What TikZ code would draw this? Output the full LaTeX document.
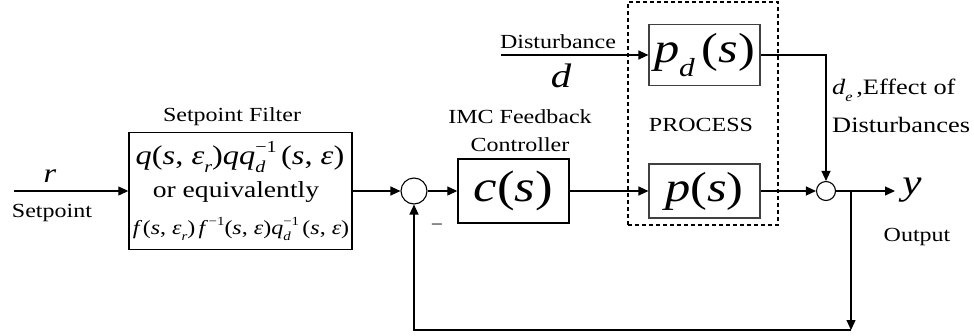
\documentclass[tikz,border=0pt]{standalone}
\usepackage{fontspec}
\setmainfont{Liberation Serif}[FakeStretch=1.2,
  ItalicFont={Liberation Serif Italic}]
\newfontfamily\itf{Liberation Serif Italic}[FakeStretch=1.2]
\usetikzlibrary{arrows.meta}

% small raised and lowered pieces, scaled from the current size
\newcommand\lowr[1]{\raisebox{-.32em}{\scalebox{.62}{#1}}}
\newcommand\upr[1]{\raisebox{.45em}{\scalebox{.62}{#1}}}
\newcommand\lowup[2]{\rlap{\lowr{#1}}\upr{#2}}
\newcommand\iv[1]{{\itf #1}}
\newcommand\fs[1]{\fontsize{#1}{#1}\selectfont}

\begin{document}
\begin{tikzpicture}[x=1pt,y=-1pt,
  blockbox/.style={draw, line width=1.4pt, inner sep=0pt},
  procbox/.style={draw=black!75, line width=1.1pt, inner sep=0pt},
  sumnode/.style={circle, draw, line width=1.1pt, inner sep=0pt},
  conn/.style={line width=1.2pt, -{Triangle[length=10pt,width=9pt]}},
  lbl/.style={inner sep=0pt, font=\fs{20}},
]
\useasboundingbox (0,0) rectangle (974,335);

% process boundary
\node[draw, line width=1.6pt, dash pattern=on 4pt off 3pt,
      minimum width=150pt, minimum height=223pt, inner sep=0pt] (proc) at (703,113.5) {};
\node[lbl] (proclbl) at (701,125) {PROCESS};

% setpoint filter
\node[blockbox, minimum width=223pt, minimum height=117pt] (filt) at (240.5,191) {};
\node[inner sep=0pt, font=\fs{27}] (f1) at (240,157)
  {\iv{q}(\iv{s}, \iv{ε}\lowr{\iv{r}})\iv{qq}\lowup{\iv{d}}{−1}\,(\iv{s}, \iv{ε})};
\node[inner sep=0pt, font=\fs{23}] (f2) at (236,192) {or equivalently};
\node[inner sep=0pt, font=\fs{20}] (f3) at (241,229)
  {\iv{f}\,(\iv{s}, \iv{ε}\lowr{\iv{r}})\,\iv{f}\,\upr{−1}(\iv{s}, \iv{ε})\iv{q}\lowup{\iv{d}}{−1}\,(\iv{s}, \iv{ε})};
\node[lbl] (filtlbl) at (232,117) {Setpoint Filter};

% controller
\node[sumnode, minimum size=26pt] (s1) at (414,191) {};
\node[blockbox, minimum width=111pt, minimum height=64pt, font=\fs{44}] (cs) at (513.5,191) {\iv{c}(\iv{s})};
\node[lbl] (imc1) at (520,117) {IMC Feedback};
\node[lbl] (imc2) at (520,145) {Controller};

% process
\node[procbox, minimum width=111pt, minimum height=61pt, font=\fs{42}] (pd) at (704.5,55) {\iv{p}\lowr{\iv{d}}\,(\iv{s})};
\node[procbox, minimum width=111pt, minimum height=54pt, font=\fs{42}] (ps) at (704.5,191) {\iv{p}(\iv{s})};

\node[sumnode, minimum size=19pt] (s2) at (826,191) {};

% free ends of the connectors
\coordinate (in) at (14,191);
\coordinate (dstart) at (501,55);
\coordinate (yend) at (895,191);
\coordinate (br) at (851,191);
\coordinate (corner) at (851,330);

% signal flow
\draw[conn] (in) -- (filt.west);
\draw[conn] (filt.east) -- (s1.west);
\draw[conn] (s1.east) -- (cs.west);
\draw[conn] (cs.east) -- (ps.west);
\draw[conn] (ps.east) -- (s2.west);
\draw[conn] (s2.east) -- (yend);
\draw[conn] (dstart) -- (pd.west);
\draw[conn] (pd.east) -| (s2.north);
\draw[conn] (br) -- (corner);
\draw[conn] (corner) -| (s1.south);

% signal labels
\node[inner sep=0pt, font=\fs{27}] (rl) at (50,176) {\iv{r}};
\node[lbl] (spl) at (52,213) {Setpoint};
\node[lbl] (distl) at (558,42) {Disturbance};
\node[inner sep=0pt, font=\fs{34}] (dl) at (561,76) {\iv{d}};
\node[inner sep=0pt, font=\fs{36}] (yl) at (912,190) {\iv{y}};
\node[lbl] (outl) at (917,237) {Output};
\node[inner sep=0pt, anchor=west, font=\fs{22}] (del) at (832,90) {\iv{d}\lowr{\iv{e}}\,,Effect of};
\node[inner sep=0pt, anchor=west, font=\fs{22}] (dsl) at (832,125) {Disturbances};
\node[inner sep=0pt, font=\fs{18}] (minus) at (437,227) {−};
\end{tikzpicture}
\end{document}
